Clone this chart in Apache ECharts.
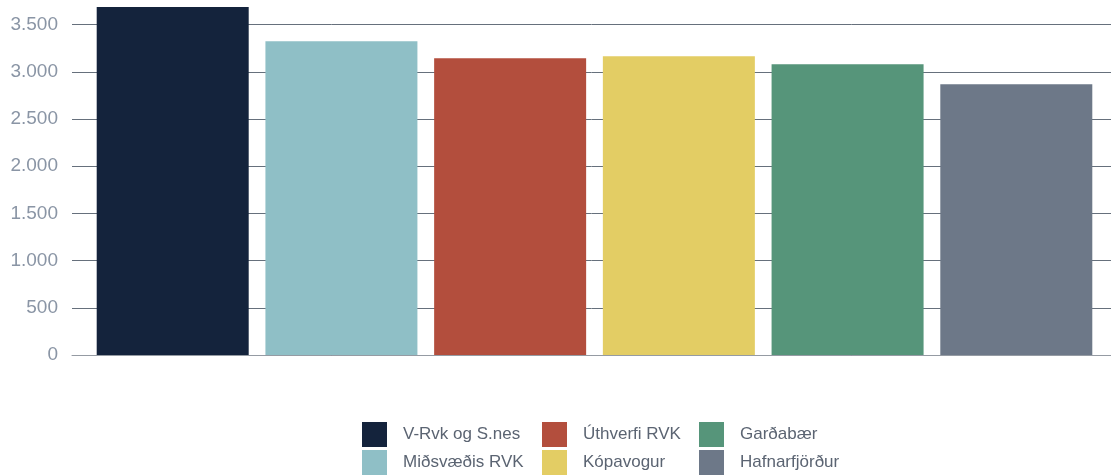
<!DOCTYPE html>
<html>
<head>
<meta charset="utf-8">
<script src="https://cdn.jsdelivr.net/npm/echarts@6/dist/echarts.min.js"></script>
<style>
  html, body { margin: 0; padding: 0; background: #ffffff; }
  #chart { width: 1111px; height: 475px; }
</style>
</head>
<body>
<div id="chart"></div>
<script>
// Regions shown as bars, one series per region
const regions = ['V-Rvk og S.nes', 'Miðsvæðis RVK', 'Úthverfi RVK', 'Kópavogur', 'Garðabær', 'Hafnarfjörður'];
const values = [3686, 3323, 3143, 3164, 3079, 2868];
const colors = ['#14233c', '#8fbfc6', '#b34e3d', '#e3cd64', '#56957a', '#6d7888'];
const yTicks = [0, 500, 1000, 1500, 2000, 2500, 3000, 3500];

const chart = echarts.init(document.getElementById('chart'));

const fmt = v => v.toLocaleString('de-DE');
const yMin = yTicks[0];
const yMax = Math.max(...values);
const yStep = yTicks[1] - yTicks[0];

// Legend laid out in three columns of two entries each
const legendColumns = [362, 542, 699];
const legends = legendColumns.map((x, c) => ({
  orient: 'vertical',
  left: x,
  top: 422,
  padding: 0,
  itemWidth: 25,
  itemHeight: 25,
  itemGap: 3,
  icon: 'rect',
  data: regions.slice(c * 2, c * 2 + 2),
  textStyle: {
    color: '#5b6472',
    fontSize: 17,
    fontFamily: 'Liberation Sans, Arial, sans-serif',
    padding: [0, 0, 0, 11]
  }
}));

chart.setOption({
  animation: false,
  color: colors,
  // grid 0 carries the value axis and gridlines, grid 1 holds the bars
  grid: [
    { left: 72, right: 0, top: 7, bottom: 120, containLabel: false },
    { left: 78, right: 0, top: 7, bottom: 120, containLabel: false }
  ],
  xAxis: [
    {
      gridIndex: 0,
      type: 'category',
      data: [''],
      axisLine: { show: true, lineStyle: { color: '#959ba3', width: 1 } },
      axisTick: { show: false },
      axisLabel: { show: false }
    },
    {
      gridIndex: 1,
      type: 'category',
      data: [''],
      axisLine: { show: false },
      axisTick: { show: false },
      axisLabel: { show: false }
    }
  ],
  yAxis: [
    {
      gridIndex: 0,
      type: 'value',
      min: yMin,
      max: yMax,
      interval: yStep,
      axisLine: { show: false },
      axisTick: { show: false },
      axisLabel: {
        showMaxLabel: false,
        margin: 14,
        color: '#8a95a5',
        fontSize: 19,
        fontFamily: 'Liberation Sans, Arial, sans-serif',
        formatter: v => (v % yStep === 0 ? fmt(v) : '')
      },
      splitLine: {
        show: true,
        showMaxLine: false,
        lineStyle: { color: '#66707c', width: 1 }
      }
    },
    {
      gridIndex: 1,
      type: 'value',
      min: yMin,
      max: yMax,
      interval: yStep,
      axisLine: { show: false },
      axisTick: { show: false },
      axisLabel: { show: false },
      splitLine: { show: false }
    }
  ],
  legend: legends,
  series: regions.map((name, i) => ({
    name: name,
    type: 'bar',
    xAxisIndex: 1,
    yAxisIndex: 1,
    data: [values[i]],
    barWidth: 152,
    barGap: '11%',
    itemStyle: { color: colors[i] }
  }))
});
</script>
</body>
</html>
